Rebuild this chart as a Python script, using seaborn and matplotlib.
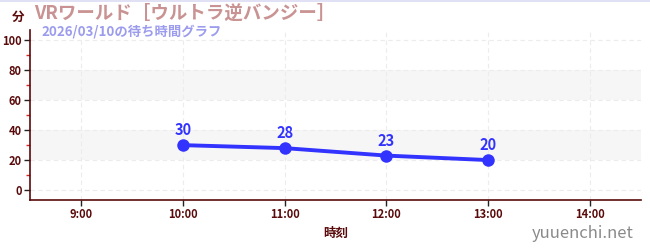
import matplotlib
matplotlib.use("Agg")
import matplotlib.pyplot as plt
import seaborn as sns
import pandas as pd
from matplotlib.ticker import MultipleLocator, FixedLocator
from matplotlib.lines import Line2D

hours = [10, 11, 12, 13]
waits = [30, 28, 23, 20]
xtick_hours = [9, 10, 11, 12, 13, 14]
xtick_labels = ["9:00", "10:00", "11:00", "12:00", "13:00", "14:00"]
title = "VRワールド［ウルトラ逆バンジー］"
subtitle = "2026/03/10の待ち時間グラフ"

sns.set_theme(style="white")
plt.rcParams['font.family'] = ['Noto Sans CJK JP', 'DejaVu Sans']

df = pd.DataFrame({"hour": hours, "wait": waits})

fig = plt.figure(figsize=(6.5, 2.5), dpi=100)
ax = fig.add_axes([30/650, 50/250, 611/650, 170/250])

dark = "#5a0a0a"
blue = "#3333ff"

for lo, hi in [(20, 40), (60, 80)]:
    ax.axhspan(lo, hi, color="#f6f6f6", zorder=0, lw=0)

sns.lineplot(data=df, x="hour", y="wait", ax=ax, color=blue, lw=2.8,
             marker="o", markersize=9, markeredgewidth=0, zorder=3)

for h, w in zip(hours, waits):
    ax.annotate(str(w), (h, w), xytext=(0, 5), textcoords="offset points",
                ha="center", va="bottom", color=blue, fontsize=10.5, fontweight="bold")

ax.set_xlim(8.5, 14.5)
ax.set_ylim(-6.7, 107)
ax.xaxis.set_major_locator(FixedLocator(xtick_hours))
ax.set_xticklabels(xtick_labels)
ax.yaxis.set_major_locator(MultipleLocator(20))
ax.yaxis.set_minor_locator(MultipleLocator(10))

ax.grid(True, which="major", axis="both", color="#ececec", ls=(0, (4, 3)), lw=0.8)
ax.set_axisbelow(True)

for s in ["top", "right"]:
    ax.spines[s].set_visible(False)
for s in ["left", "bottom"]:
    ax.spines[s].set_color(dark)
    ax.spines[s].set_linewidth(1.2)

ax.tick_params(axis="both", which="major", direction="out", length=4, width=1,
               color="#222222", labelcolor=dark, labelsize=8, pad=2, left=True, bottom=True)
ax.tick_params(axis="y", which="minor", direction="out", length=3, width=1,
               color="#dd2222", left=True)
for lab in ax.get_xticklabels() + ax.get_yticklabels():
    lab.set_fontweight("bold")

ax.set_xlabel("時刻", color=dark, fontsize=9, fontweight="bold", labelpad=4)
ax.set_ylabel("")

fig.text(18/650, 1 - 17/250, "分", color=dark, fontsize=9, fontweight="bold",
         ha="center", va="center")
fig.text(34/650, 1 - 13/250, title, color="#c99393", fontsize=13.3, fontweight="bold",
         ha="left", va="center")
fig.text(41/650, 1 - 31/250, subtitle, color="#9c9cee", fontsize=9.6, fontweight="bold",
         ha="left", va="center")
fig.text(634/650, 1 - 233/250, "yuuenchi.net", color="#8a8a8a", fontsize=12,
         ha="right", va="center")

fig.add_artist(Line2D([0, 1], [0.998, 0.998], transform=fig.transFigure,
                      color="#dcdcf5", lw=1.2))

fig.savefig("out.png", dpi=100)
